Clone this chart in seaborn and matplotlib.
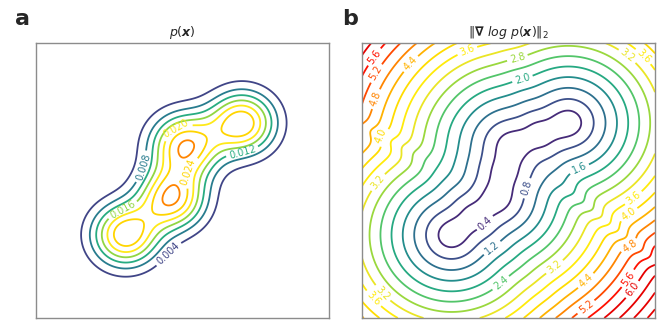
import math
import numpy as np
import matplotlib
matplotlib.use("Agg")
import matplotlib.pyplot as plt
import seaborn as sns
from matplotlib.colors import LinearSegmentedColormap, Normalize

# ---- data: mixture of four (slightly super-Gaussian) bumps ----
mean_x = [-3.494, -0.671, 0.171, 3.66]
mean_y = [-3.561, -1.167, 2.277, 3.77]
sigma = [1.42, 1.42, 1.47, 1.42]
weight = [0.334, 0.340, 0.3644, 0.334]
kernel_power = 1.04
domain = [-9.0, 9.0]

levels_p = [0.004, 0.008, 0.012, 0.016, 0.020, 0.024, 0.028]
levels_g = [0.4, 0.8, 1.2, 1.6, 2.0, 2.4, 2.8, 3.2, 3.6, 4.0, 4.4, 4.8,
            5.2, 5.6, 6.0, 6.4, 6.8, 7.2, 7.6, 8.0]

title_a = r"$p(\boldsymbol{x})$"
title_b = r"$\Vert\boldsymbol{\nabla}\ log\ p(\boldsymbol{x})\Vert_2$"
panel_letters = ["a", "b"]

# contour labels: level and anchor point (data coords)
label_lev_a = [0.004, 0.008, 0.012, 0.016, 0.020, 0.024]
label_xy_a = [(-0.65, -5.0), (-2.43, 0.88), (3.67, 1.85), (-3.74, -1.8),
              (-0.47, 3.51), (0.11, 0.63)]
label_lev_b = [5.6, 5.2, 4.8, 4.4, 4.0, 3.6, 3.2, 2.8, 2.0, 1.6, 0.8, 0.4,
               1.2, 2.4, 3.2, 4.4, 5.2, 3.6, 4.0, 4.8, 5.6, 6.0, 3.2, 3.6,
               3.2, 3.6]
label_xy_b = [(-8.64, 8.35), (-8.32, 7.11), (-8.57, 5.47), (-6.05, 7.69),
              (-8.32, 3.11), (-2.56, 8.55), (-8.21, 0.04), (0.58, 7.88),
              (0.88, 6.52), (4.39, 0.68), (0.88, -0.43), (-1.44, -2.79),
              (-1.01, -4.41), (-0.52, -6.64), (2.99, -5.85), (4.88, -6.71),
              (4.82, -8.35), (7.96, -1.48), (7.65, -2.59), (7.56, -4.55),
              (7.78, -6.71), (7.9, -7.36), (7.47, 8.35), (8.39, 8.21),
              (-7.47, -7.16), (-8.39, -7.83)]

# ---- style ----
sns.set_theme(style="white")
plt.rcParams["font.family"] = ["DejaVu Sans"]
plt.rcParams["mathtext.fontset"] = "dejavusans"

vir = sns.color_palette("viridis", as_cmap=True)
anchors = [(0.55 * t, vir(t)) for t in np.linspace(0, 1, 12)]
anchors += [(0.62, "#ffec00"), (0.69, "#ffd400"), (0.75, "#ffa500"),
            (0.82, "#ff7800"), (0.88, "#ff3c00"), (0.94, "#ff0a00"),
            (1.0, "#e60000")]
cmap = LinearSegmentedColormap.from_list("vir_hot", anchors)
cmap = cmap.with_extremes(over="#e60000")

# ---- fields ----
xs = np.linspace(domain[0], domain[1], 600)
X, Y = np.meshgrid(xs, xs)
P = np.zeros_like(X)
GX = np.zeros_like(X)
GY = np.zeros_like(X)
g = kernel_power
for mx, my, s, w in zip(mean_x, mean_y, sigma, weight):
    u = ((X - mx) ** 2 + (Y - my) ** 2) / (2 * s ** 2)
    norm_c = 2 * np.pi * s ** 2 * math.gamma(1 + 1 / g)
    n = w / norm_c * np.exp(-u ** g)
    fac = g * u ** (g - 1) / s ** 2
    P += n
    GX += -n * fac * (X - mx)
    GY += -n * fac * (Y - my)
G = np.hypot(GX, GY) / P


def snap_to_level(cs, levels, lev_list, xy_list):
    """Move each anchor onto the nearest vertex of its own contour level."""
    out = []
    for lev, (x0, y0) in zip(lev_list, xy_list):
        i = int(np.argmin(np.abs(np.asarray(levels) - lev)))
        segs = [s for s in cs.allsegs[i] if len(s)]
        if not segs:
            continue
        v = np.concatenate(segs)
        k = int(np.argmin((v[:, 0] - x0) ** 2 + (v[:, 1] - y0) ** 2))
        out.append((float(v[k, 0]), float(v[k, 1])))
    return out


fig = plt.figure(figsize=(6.57, 3.2), dpi=100)
ax1 = fig.add_axes([36 / 657, 2 / 320, 293 / 657, 275 / 320])
ax2 = fig.add_axes([362 / 657, 2 / 320, 293 / 657, 275 / 320])

cs1 = ax1.contour(X, Y, P, levels=levels_p, cmap=cmap,
                  norm=Normalize(0.0, 0.035), linewidths=1.3)
pts_a = snap_to_level(cs1, levels_p, label_lev_a, label_xy_a)
ax1.clabel(cs1, manual=pts_a, inline=True, fontsize=7, fmt="%.3f",
           inline_spacing=3)

cs2 = ax2.contour(X, Y, G, levels=levels_g, cmap=cmap,
                  norm=Normalize(0.0, 6.0), linewidths=1.3)
pts_b = snap_to_level(cs2, levels_g, label_lev_b, label_xy_b)
ax2.clabel(cs2, manual=pts_b, inline=True, fontsize=7, fmt="%.1f",
           inline_spacing=3)

for ax, title in zip([ax1, ax2], [title_a, title_b]):
    ax.set_xlim(domain)
    ax.set_ylim(domain)
    ax.set_xticks([])
    ax.set_yticks([])
    ax.set_title(title, fontsize=9, pad=5)
    for sp in ax.spines.values():
        sp.set_color("#8c8c8c")
        sp.set_linewidth(1.0)

fig.text(22 / 657, 1 - 19 / 320, panel_letters[0], fontsize=16,
         fontweight="bold", ha="center", va="center")
fig.text(350 / 657, 1 - 19 / 320, panel_letters[1], fontsize=16,
         fontweight="bold", ha="center", va="center")

fig.savefig("out.png", dpi=100)
